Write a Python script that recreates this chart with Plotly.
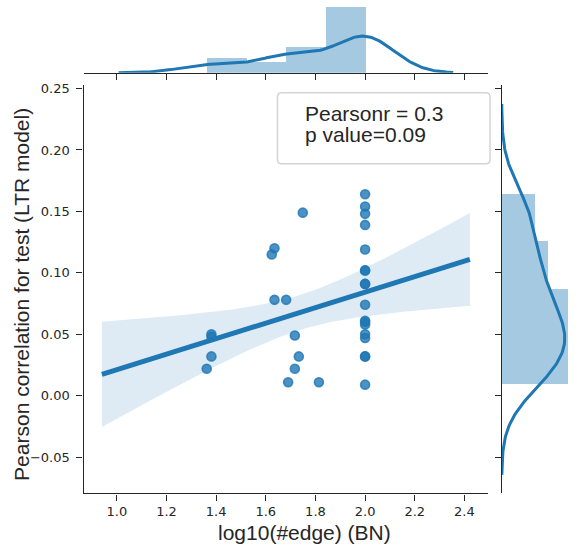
import numpy as np
import plotly.graph_objects as go

# ---------------- data ----------------
log10_edge = [1.362, 1.381, 1.381, 1.381, 1.624, 1.635, 1.635, 1.682, 1.690,
              1.717, 1.717, 1.733, 1.749, 1.814,
              2.0, 2.0, 2.0, 2.0, 2.0, 2.0, 2.0, 2.0, 2.0,
              2.0, 2.0, 2.0, 2.0, 2.0, 2.0, 2.0, 2.0, 2.0]
pearson_test = [0.022, 0.032, 0.050, 0.048, 0.115, 0.120, 0.078, 0.078, 0.011,
                0.049, 0.022, 0.032, 0.149, 0.011,
                0.164, 0.154, 0.148, 0.139, 0.119, 0.102, 0.102, 0.091, 0.091,
                0.074, 0.061, 0.060, 0.058, 0.050, 0.047, 0.032, 0.032, 0.009]
x_tick_vals = [1.0, 1.2, 1.4, 1.6, 1.8, 2.0, 2.2, 2.4]
y_tick_vals = [-0.05, 0.0, 0.05, 0.10, 0.15, 0.20, 0.25]
x_label = "log10(#edge) (BN)"
y_label = "Pearson correlation for test (LTR model)"
stat_lines = ["Pearsonr = 0.3", "p value=0.09"]

x = np.array(log10_edge)
y = np.array(pearson_test)
n = len(x)


def scott_bw(v):
    sd = np.std(v, ddof=1)
    iqr = (np.percentile(v, 75) - np.percentile(v, 25)) / 1.349
    a = min(sd, iqr) if iqr > 0 else sd
    return 1.059 * a * len(v) ** (-0.2)


def kde(v, npts=200):
    bw = scott_bw(v)
    g = np.linspace(v.min() - 3 * bw, v.max() + 3 * bw, npts)
    d = np.exp(-0.5 * ((g[:, None] - v[None, :]) / bw) ** 2).sum(1)
    d /= (len(v) * bw * np.sqrt(2 * np.pi))
    return g, d


def hist(v, bins=4):
    c, e = np.histogram(v, bins=bins)
    w = e[1] - e[0]
    return (e[:-1] + e[1:]) / 2, c / (len(v) * w), w


gx, dx = kde(x)
gy, dy = kde(y)
hcx, hdx, hwx = hist(x)
hcy, hdy, hwy = hist(y)

# regression line over the (margined) range of the marginal KDE
span = gx[-1] - gx[0]
xl = np.linspace(gx[0] - 0.05 * span, gx[-1] + 0.05 * span, 100)
X = np.column_stack([np.ones(n), x])
beta, *_ = np.linalg.lstsq(X, y, rcond=None)
resid = y - X @ beta
xtx_inv = np.linalg.inv(X.T @ X)
meat = X.T @ (X * (resid ** 2)[:, None])
V = xtx_inv @ meat @ xtx_inv
XL = np.column_stack([np.ones_like(xl), xl])
yl = XL @ beta
se = np.sqrt(np.einsum("ij,jk,ik->i", XL, V, XL))
lo, hi = yl - 1.96 * se, yl + 1.96 * se

lspan = xl[-1] - xl[0]
x_range = [xl[0] - 0.05 * lspan, xl[-1] + 0.05 * lspan]
yspan = gy[-1] - gy[0]
y_range = [gy[0] - 0.05 * yspan, gy[-1] + 0.05 * yspan]

# ---------------- style ----------------
W, H = 579, 555
C0 = "#1f77b4"
AX = "#262626"
tick_font = dict(family="DejaVu Sans", size=13, color=AX)
title_font = dict(family="Liberation Sans, Arial", size=21, color=AX)

fig = go.Figure()

# scatter (drawn first, band over it, then line -- like seaborn)
fig.add_trace(go.Scatter(
    x=x, y=y, mode="markers", xaxis="x", yaxis="y",
    marker=dict(size=9, color="rgba(31,119,180,0.8)",
                line=dict(color="rgba(31,119,180,0.8)", width=1.6)),
    showlegend=False, hoverinfo="skip"))
fig.add_trace(go.Scatter(
    x=np.concatenate([xl, xl[::-1]]), y=np.concatenate([hi, lo[::-1]]),
    fill="toself", fillcolor="rgba(31,119,180,0.15)", line=dict(width=0),
    mode="lines", xaxis="x", yaxis="y", showlegend=False, hoverinfo="skip"))
fig.add_trace(go.Scatter(
    x=xl, y=yl, mode="lines", line=dict(color=C0, width=5),
    xaxis="x", yaxis="y", showlegend=False, hoverinfo="skip"))

# top marginal
fig.add_trace(go.Bar(x=hcx, y=hdx, width=hwx, marker=dict(color="rgba(31,119,180,0.4)", line=dict(width=0)),
                     xaxis="x2", yaxis="y2", showlegend=False, hoverinfo="skip"))
fig.add_trace(go.Scatter(x=gx, y=dx, mode="lines", line=dict(color=C0, width=3),
                         xaxis="x2", yaxis="y2", showlegend=False, hoverinfo="skip"))
# right marginal
fig.add_trace(go.Bar(y=hcy, x=hdy, width=hwy, orientation="h",
                     marker=dict(color="rgba(31,119,180,0.4)", line=dict(width=0)),
                     xaxis="x3", yaxis="y3", showlegend=False, hoverinfo="skip"))
fig.add_trace(go.Scatter(x=dy, y=gy, mode="lines", line=dict(color=C0, width=3),
                         xaxis="x3", yaxis="y3", showlegend=False, hoverinfo="skip"))

main_x = [83.5 / W, 488.3 / W]
main_y = [1 - 493 / H, 1 - 82 / H]
top_y = [1 - 69.3 / H, 1.0]
right_x = [501.7 / W, (501.7 + 69.3) / W]

axis_common = dict(showline=True, linecolor=AX, linewidth=1.25, ticks="outside",
                   ticklen=6, tickwidth=1.25, tickcolor=AX, showgrid=False,
                   zeroline=False, mirror=False)

fig.update_layout(
    width=W, height=H, margin=dict(l=0, r=0, t=0, b=0),
    paper_bgcolor="white", plot_bgcolor="white", bargap=0,
    xaxis=dict(domain=main_x, anchor="y", range=x_range, tickvals=x_tick_vals,
               tickformat=".1f", tickfont=tick_font, ticklabelstandoff=0, **axis_common),
    yaxis=dict(domain=main_y, anchor="x", range=y_range, tickvals=y_tick_vals,
               tickformat=".2f", tickfont=tick_font, ticklabelstandoff=4, **axis_common),
    xaxis2=dict(domain=main_x, anchor="y2", range=x_range, tickvals=x_tick_vals,
                showticklabels=False, **axis_common),
    yaxis2=dict(domain=top_y, anchor="x2", range=[0, 1.05 * max(hdx.max(), dx.max())],
                visible=False),
    xaxis3=dict(domain=right_x, anchor="y3", range=[0, 1.05 * max(hdy.max(), dy.max())],
                visible=False),
    yaxis3=dict(domain=main_y, anchor="x3", range=y_range, tickvals=y_tick_vals,
                showticklabels=False, **axis_common),
)

# axis titles
fig.add_annotation(text=x_label, x=304 / W, y=1 - 532 / H, xref="paper", yref="paper",
                   showarrow=False, xanchor="center", yanchor="middle", font=title_font)
fig.add_annotation(text=y_label, x=22 / W, y=1 - 293 / H, xref="paper", yref="paper",
                   showarrow=False, xanchor="center", yanchor="middle", textangle=-90,
                   font=title_font)

# stats box (rounded rectangle)
bx0, bx1, by0, by1, r = 277.5, 490.0, 89.3, 161.0, 4.0


def px(v):
    return v / W


def py(v):
    return 1 - v / H


path = (f"M {px(bx0 + r)},{py(by0)} L {px(bx1 - r)},{py(by0)} "
        f"Q {px(bx1)},{py(by0)} {px(bx1)},{py(by0 + r)} L {px(bx1)},{py(by1 - r)} "
        f"Q {px(bx1)},{py(by1)} {px(bx1 - r)},{py(by1)} L {px(bx0 + r)},{py(by1)} "
        f"Q {px(bx0)},{py(by1)} {px(bx0)},{py(by1 - r)} L {px(bx0)},{py(by0 + r)} "
        f"Q {px(bx0)},{py(by0)} {px(bx0 + r)},{py(by0)} Z")
fig.add_shape(type="path", path=path, xref="paper", yref="paper",
              line=dict(color="#d4d4d4", width=1.5), fillcolor="rgba(255,255,255,0.8)")
for i, s in enumerate(stat_lines):
    fig.add_annotation(text=s, x=303 / W, y=1 - (110.5 + 21 * i) / H, xref="paper", yref="paper",
                       showarrow=False, xanchor="left", yanchor="middle",
                       font=dict(family="Liberation Sans, Arial", size=21, color=AX))

fig.write_html("out.html")
